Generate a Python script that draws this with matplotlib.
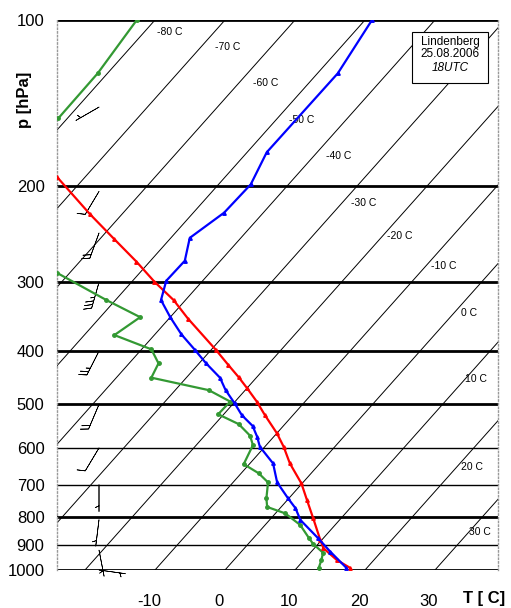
import matplotlib

matplotlib.use("Agg")

import matplotlib.pyplot as plt
import matplotlib.transforms as mtransforms
from matplotlib.patches import Rectangle
import numpy as np

plt.rcParams["font.family"] = ["Liberation Sans", "DejaVu Sans"]
plt.rcParams["axes.unicode_minus"] = False

SKEW = 70.0  # deg C per decade of pressure

# temperature (blue)
p_temp = [990, 926, 876, 811, 772, 741, 693, 640, 597, 572, 547, 523, 498, 471,
          447, 421, 398, 373, 347, 323, 298, 274, 249, 224, 199, 174, 125, 100]
t_temp = [17.0, 12.7, 9.3, 4.4, 2.2, -0.1, -3.7, -6.7, -10.7, -12.4, -14.4, -17.3,
          -19.8, -22.8, -25.2, -29.0, -32.3, -36.2, -40.0, -43.5, -45.2, -45.1,
          -47.3, -45.6, -45.4, -47.2, -47.1, -49.0]

# dew point (green), gap where it leaves the diagram
p_dew = [990, 959, 930, 897, 876, 828, 789, 768, 741, 693, 667, 642, 593, 570,
         543, 521, 494, 471, 447, 421, 397, 374, 347, 323, 288,
         np.nan, 151, 125, 100]
t_dew = [13.1, 12.5, 11.8, 9.3, 8.0, 5.0, 1.4, -2.0, -3.2, -5.0, -7.5, -10.8,
         -11.9, -13.5, -16.6, -20.8, -20.7, -25.2, -35.0, -35.8, -38.6, -45.7,
         -44.3, -51.3, -61.9,
         np.nan, -81.3, -81.4, -82.6]

# parcel curve (red)
p_parcel = [990, 959, 913, 882, 805, 746, 696, 640, 597, 564, 523, 494, 467,
            446, 424, 398, 349, 323, 299, 275, 250, 225, 193]
t_parcel = [17.5, 14.7, 11.3, 9.8, 6.0, 2.8, -0.1, -4.3, -7.3, -10.0, -14.0,
            -16.9, -20.0, -22.6, -25.6, -29.3, -37.3, -41.7, -46.8, -51.9,
            -58.0, -64.7, -74.0]

# wind: pressure, direction (deg), speed (kt)
p_wind = [144, 205, 244, 300, 400, 500, 600, 700, 810, 920, 1000]
dir_wind = [240, 211, 200, 196, 207, 203, 211, 180, 187, 169, 98]
spd_wind = [5, 10, 20, 35, 25, 20, 10, 5, 5, 5, 5]

isotherms = list(range(-80, 40, 10))
label_t = [-80, -70, -60, -50, -40, -30, -20, -10, 0, 10, 20, 30]
label_p = [105, 112, 130, 152, 177, 215, 247, 280, 341, 450, 651, 852]
label_x = [-9.7, -1.4, 4.0, 9.2, 14.4, 18.0, 23.2, 29.4, 33.7, 34.3, 33.7, 34.8]

isobars = [100, 200, 300, 400, 500, 600, 700, 800, 900, 1000]
thick_isobars = [100, 200, 300, 400, 500, 800, 1000]


def skew_x(t, p):
    return np.asarray(t, dtype=float) + SKEW * np.log10(1000.0 / np.asarray(p, dtype=float))


fig = plt.figure(figsize=(5.11, 6.08), dpi=100)
ax = fig.add_axes([57 / 511, 38 / 608, 441 / 511, 550 / 608])
ax.set_yscale("log")
ax.set_ylim(1000, 100)
ax.set_xlim(-24, 39)

for pb in isobars:
    ax.axhline(pb, color="black", lw=2.0 if pb in thick_isobars else 1.0, zorder=2)

for t in isotherms:
    ax.plot(skew_x([t, t], [1050, 95]), [1050, 95], color="black", lw=0.7, zorder=1)

for t, p, x in zip(label_t, label_p, label_x):
    ax.text(x, p, f"{t} C", fontsize=7.5, ha="left", va="center", zorder=3)

ax.plot(skew_x(t_parcel, p_parcel), p_parcel, color="#ff0000", lw=1.6,
        marker="^", ms=2.5, zorder=5)
ax.plot(skew_x(t_temp, p_temp), p_temp, color="#0000ff", lw=1.6,
        marker="^", ms=2.5, zorder=6)
ax.plot(skew_x(t_dew, p_dew), p_dew, color="#339933", lw=1.6,
        marker="o", ms=2.5, zorder=4)

# wind barbs along the left side
rad = np.radians(dir_wind)
u = -np.array(spd_wind) * np.sin(rad)
v = -np.array(spd_wind) * np.cos(rad)
ax.barbs(np.full(len(p_wind), -18.0), p_wind, u, v, length=6.2, lw=0.5,
         sizes=dict(height=0.28, spacing=0.14, width=0.25), zorder=3,
         clip_on=False)

ax.set_yticks(isobars)
ax.set_yticklabels([str(p) for p in isobars], fontsize=12)
ax.yaxis.set_minor_locator(matplotlib.ticker.NullLocator())
ax.set_xticks([-10, 0, 10, 20, 30])
ax.set_xticklabels(["-10", "0", "10", "20", "30"], fontsize=12)
ax.tick_params(length=0)
ax.tick_params(axis="y", pad=9)
ax.tick_params(axis="x", pad=17)
shift = mtransforms.ScaledTranslation(-6 / 100, 0, fig.dpi_scale_trans)
for lab in ax.get_xticklabels():
    lab.set_transform(lab.get_transform() + shift)

for side in ["left", "right"]:
    ax.spines[side].set_color("#999999")
    ax.spines[side].set_linestyle(":")
    ax.spines[side].set_linewidth(1.0)
ax.spines["top"].set_visible(False)
ax.spines["bottom"].set_visible(False)

fig.text(25 / 511, 1 - 100 / 608, "p [hPa]", rotation=90, fontsize=12,
         fontweight="bold", ha="center", va="center")
fig.text(484 / 511, 1 - 598 / 608, "T [ C]", fontsize=12, fontweight="bold",
         ha="center", va="center")

fig.add_artist(Rectangle((412 / 511, 1 - 83 / 608), 76 / 511, 51 / 608,
                         transform=fig.transFigure, facecolor="white",
                         edgecolor="black", lw=0.8, zorder=10))
fig.text(450 / 511, 1 - 42 / 608, "Lindenberg", fontsize=8.5, ha="center", va="center", zorder=11)
fig.text(450 / 511, 1 - 54 / 608, "25.08.2006", fontsize=8.5, ha="center", va="center", zorder=11)
fig.text(450 / 511, 1 - 68 / 608, "18UTC", fontsize=8.5, style="italic", ha="center", va="center", zorder=11)

fig.savefig("out.png", dpi=100)
